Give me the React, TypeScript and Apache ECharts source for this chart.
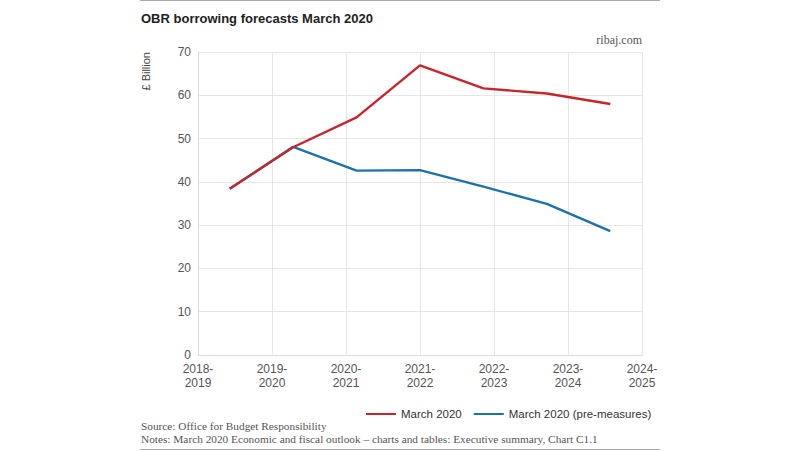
import React, { useEffect, useRef } from "react";
import * as echarts from "echarts";

const years = ["2018-\n2019", "2019-\n2020", "2020-\n2021", "2021-\n2022", "2022-\n2023", "2023-\n2024", "2024-\n2025"];
const march2020 = [38.4, 48.0, 54.9, 66.9, 61.6, 60.4, 58.0];
const preMeasures = [38.4, 48.1, 42.6, 42.7, 38.9, 34.9, 28.6];
const yTicks = { min: 0, max: 70, interval: 10 };

const RED = "#c6262b";
const BLUE = "#1d72aa";
const SANS = "'Liberation Sans', Arial, sans-serif";
const SERIF = "'Liberation Serif', 'DejaVu Serif', serif";

export default function App() {
  const ref = useRef<HTMLDivElement>(null);
  useEffect(() => {
    const chart = echarts.init(ref.current!, null, { renderer: "svg" });
    chart.setOption({
      animation: false,
      backgroundColor: "#ffffff",
      grid: { left: 198, right: 158, top: 52, bottom: 96, containLabel: false },
      xAxis: [
        {
          type: "category",
          data: years,
          boundaryGap: false,
          axisLine: { show: true, lineStyle: { color: "#dcdcdc" } },
          axisTick: { show: false },
          splitLine: { show: true, lineStyle: { color: "#e6e6e6" } },
          axisLabel: { color: "#555", fontFamily: SANS, fontSize: 12, lineHeight: 14, margin: 7, interval: 0 },
        },
        {
          type: "category",
          data: years,
          boundaryGap: true,
          show: false,
        },
      ],
      yAxis: {
        type: "value",
        min: yTicks.min,
        max: yTicks.max,
        interval: yTicks.interval,
        axisLine: { show: true, lineStyle: { color: "#dcdcdc" } },
        axisTick: { show: false },
        splitLine: { show: true, lineStyle: { color: "#e6e6e6" } },
        axisLabel: { color: "#555", fontFamily: SANS, fontSize: 12, margin: 7 },
      },
      legend: {
        left: 361,
        top: 403,
        icon: "rect",
        itemWidth: 30,
        itemHeight: 2,
        itemGap: 12,
        textStyle: { color: "#333", fontFamily: SANS, fontSize: 11.5 },
        data: ["March 2020", "March 2020 (pre-measures)"],
      },
      series: [
        {
          name: "March 2020 (pre-measures)",
          type: "line",
          xAxisIndex: 1,
          data: preMeasures,
          symbol: "none",
          lineStyle: { color: BLUE, width: 2.4 },
          itemStyle: { color: BLUE },
        },
        {
          name: "March 2020",
          type: "line",
          xAxisIndex: 1,
          data: march2020,
          symbol: "none",
          lineStyle: { color: RED, width: 2.4 },
          itemStyle: { color: RED },
        },
      ],
      graphic: [
        { type: "line", shape: { x1: 140, y1: 0.5, x2: 660, y2: 0.5 }, style: { stroke: "#aaa", lineWidth: 1 } },
        { type: "line", shape: { x1: 140, y1: 449.5, x2: 660, y2: 449.5 }, style: { stroke: "#aaa", lineWidth: 1 } },
        {
          type: "text",
          x: 141,
          y: 18,
          style: { text: "OBR borrowing forecasts March 2020", fill: "#222", font: `bold 13px ${SANS}`, verticalAlign: "middle" },
        },
        {
          type: "text",
          x: 642,
          y: 40,
          style: { text: "ribaj.com", fill: "#555", font: `12px ${SERIF}`, align: "right", verticalAlign: "middle" },
        },
        {
          type: "text",
          x: 146,
          y: 52,
          rotation: Math.PI / 2,
          style: { text: "£ Billion", fill: "#444", font: `11px ${SANS}`, align: "right", verticalAlign: "middle" },
        },
        {
          type: "text",
          x: 141,
          y: 426,
          style: { text: "Source: Office for Budget Responsibility", fill: "#555", font: `11.3px ${SERIF}`, verticalAlign: "middle" },
        },
        {
          type: "text",
          x: 141,
          y: 439,
          style: {
            text: "Notes: March 2020 Economic and fiscal outlook – charts and tables: Executive summary, Chart C1.1",
            fill: "#555",
            font: `11.3px ${SERIF}`,
            verticalAlign: "middle",
          },
        },
      ],
    });
    return () => chart.dispose();
  }, []);
  return <div ref={ref} style={{ position: "fixed", left: 0, top: 0, width: 800, height: 451 }} />;
}
